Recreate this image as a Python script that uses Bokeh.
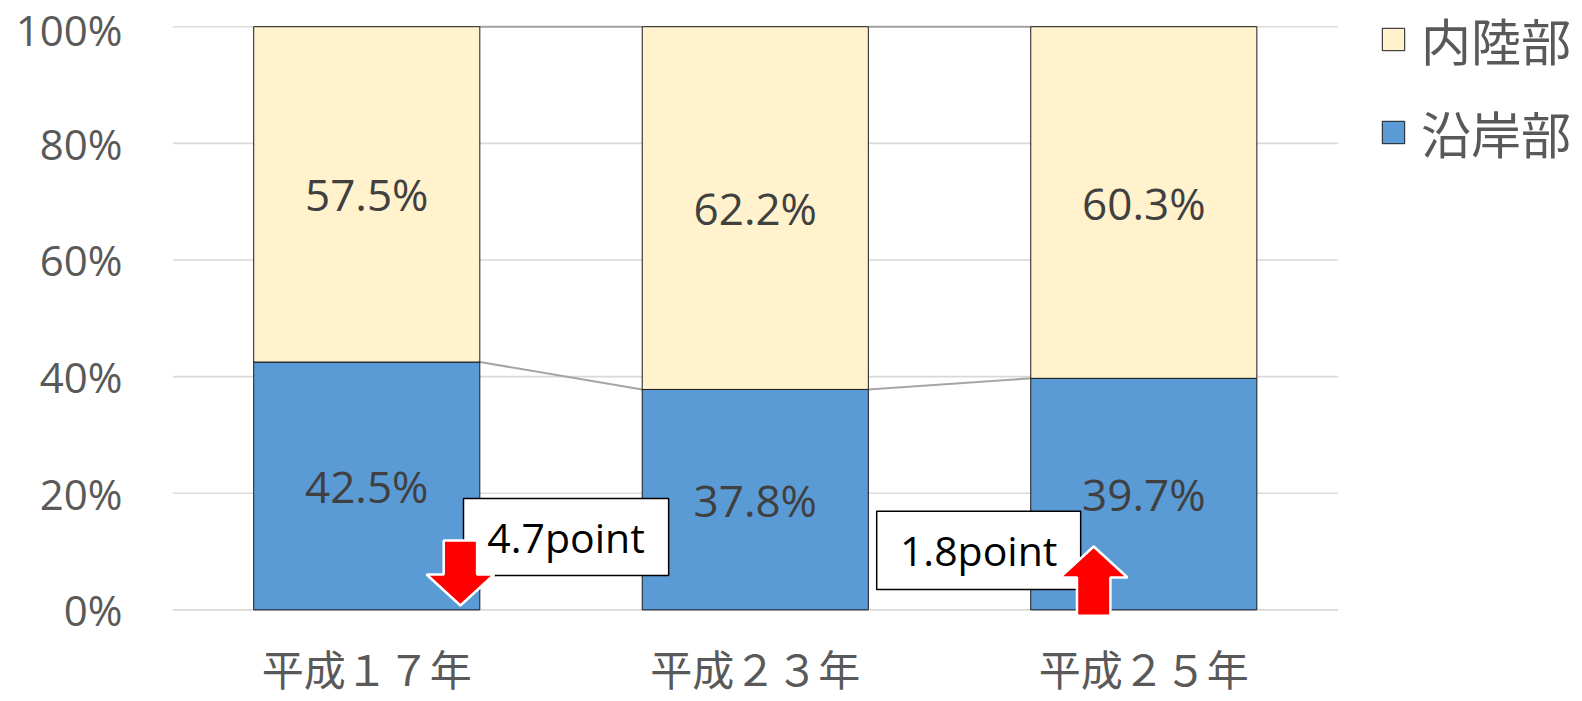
from bokeh.plotting import figure
from bokeh.models import Range1d, FixedTicker, ColumnDataSource, Legend, LegendItem
from bokeh.core.properties import value
from bokeh.embed import file_html
from bokeh.resources import INLINE

# ---- data ----
years = ["平成１７年", "平成２３年", "平成２５年"]
coastal = [42.5, 37.8, 39.7]      # 沿岸部
inland = [57.5, 62.2, 60.3]       # 内陸部
changes = ["4.7point", "1.8point"]
change_dir = [-1, 1]
y_ticks = [0, 20, 40, 60, 80, 100]

BLUE = "#5B9BD5"
CREAM = "#FFF2CC"
LAT = "Open Sans"
CJK = "Noto Sans CJK JP"

W, H = 1580, 701
PX = 5.832  # px per percent
p = figure(width=W, height=H, output_backend="svg", toolbar_location=None,
           x_range=Range1d(0, 3.624), y_range=Range1d((609.4 - H) / PX, 609.4 / PX),
           x_axis_location=None,
           min_border_left=172, min_border_right=0, min_border_top=0, min_border_bottom=0)
p.outline_line_color = None
p.background_fill_color = "white"
p.grid.visible = False

n = len(years)
xs = [i + 0.5 for i in range(n)]
bw = 0.582
src = ColumnDataSource(dict(x=xs, coastal=coastal, inland=inland,
                            top=[c + v for c, v in zip(coastal, inland)],
                            cl=[f"{v:.1f}%" for v in coastal],
                            il=[f"{v:.1f}%" for v in inland],
                            cy=[v / 2 for v in coastal],
                            iy=[c + v / 2 for c, v in zip(coastal, inland)],
                            years=years, ly=[-9.9] * n))

# gridlines (only across the category area)
p.segment(x0=[0] * len(y_ticks), x1=[n] * len(y_ticks), y0=y_ticks, y1=y_ticks,
          line_color="#D9D9D9", line_width=1.6)

# y axis
p.yaxis.ticker = FixedTicker(ticks=y_ticks)
p.yaxis.major_label_overrides = {t: f"{t}%" for t in y_ticks}
p.yaxis.axis_line_color = None
p.yaxis.major_tick_line_color = None
p.yaxis.minor_tick_line_color = None
p.yaxis.major_label_text_color = "#595959"
p.yaxis.major_label_text_font = LAT
p.yaxis.major_label_text_font_size = "42px"
p.yaxis.major_label_standoff = 44

# category labels
p.text(x="x", y="ly", text="years", source=src, text_align="center", text_baseline="middle",
       text_font=value(CJK), text_font_size="42px", text_color="#595959",
       text_line_height=1.0)

# series lines
for i in range(n - 1):
    p.line([xs[i] + bw / 2, xs[i + 1] - bw / 2], [coastal[i], coastal[i + 1]],
           line_color="#A5A5A5", line_width=2)
    p.line([xs[i] + bw / 2, xs[i + 1] - bw / 2], [100, 100],
           line_color="#A5A5A5", line_width=2)

r_c = p.vbar(x="x", width=bw, bottom=0, top="coastal", source=src,
             fill_color=BLUE, line_color="#1a1a1a", line_width=1)
r_i = p.vbar(x="x", width=bw, bottom="coastal", top="top", source=src,
             fill_color=CREAM, line_color="#1a1a1a", line_width=1)

p.text(x="x", y="cy", text="cl", source=src, text_align="center", text_baseline="middle",
       text_font=value(LAT), text_font_size="44px", text_color="#404040")
p.text(x="x", y="iy", text="il", source=src, text_align="center", text_baseline="middle",
       text_font=value(LAT), text_font_size="44px", text_color="#404040")

# change annotations: boxes and arrows
box_cx = [1.013, 2.075]
box_cy = [12.5, 10.2]
box_w = [0.528, 0.525]
box_h = [13.2, 13.4]
p.rect(x=box_cx, y=box_cy, width=box_w, height=box_h, fill_color="white",
       line_color="black", line_width=1.5)
p.text(x=box_cx, y=box_cy, text=changes, text_align="center", text_baseline="middle",
       text_font=value(LAT), text_font_size="41px", text_color="black")

arrow_x = [0.741, 2.371]
ax_list, ay_list = [], []
for cx, d in zip(arrow_x, change_dir):
    hw, sw = 0.087, 0.043
    if d < 0:
        tip, base, tail = 0.75, 6.07, 11.9
    else:
        tip, base, tail = 10.87, 5.56, -1.0
    ax_list.append([cx - sw, cx + sw, cx + sw, cx + hw, cx, cx - hw, cx - sw])
    ay_list.append([tail, tail, base, base, tip, base, base])
p.patches(ax_list, ay_list, fill_color="#FF0000", line_color="white", line_width=2.5)

legend = Legend(items=[LegendItem(label="内陸部", renderers=[r_i]),
                       LegendItem(label="沿岸部", renderers=[r_c])],
                location=(1207, 533))
legend.label_text_font = CJK
legend.label_text_font_size = "50px"
legend.label_text_color = "#595959"
legend.glyph_width = 28
legend.glyph_height = 28
legend.label_standoff = 14
legend.spacing = 21
legend.padding = 0
legend.margin = 0
legend.border_line_color = None
legend.background_fill_alpha = 0
p.add_layout(legend)

open("out.html", "w").write(file_html(p, INLINE))
